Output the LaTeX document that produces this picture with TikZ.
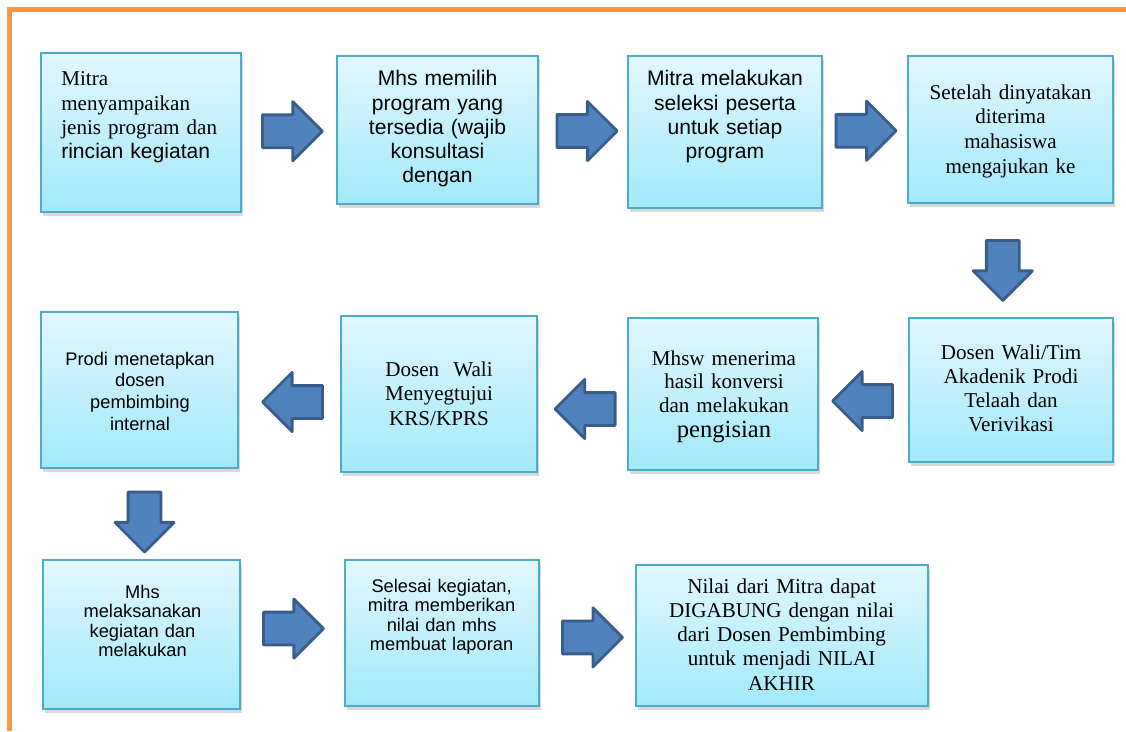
\documentclass[tikz,border=0pt]{standalone}
\usepackage{fontspec}
\setmainfont{Liberation Serif}
\setsansfont{Liberation Sans}
\usetikzlibrary{positioning, shapes.arrows, shadows}

\definecolor{frameorange}{HTML}{F79646}
\definecolor{boxline}{HTML}{4BACC6}
\definecolor{boxtop}{HTML}{E1F7FE}
\definecolor{boxbottom}{HTML}{A2E9FB}
\definecolor{arrowfill}{HTML}{4F81BD}
\definecolor{arrowline}{HTML}{385D8A}

\begin{document}
\begin{tikzpicture}[
    stepbox/.style={draw=boxline, line width=1.3pt, top color=boxtop,
                    bottom color=boxbottom, inner sep=0pt,
                    drop shadow={shadow xshift=1.2pt, shadow yshift=-2.6pt, opacity=0.3}},
    serif/.style={font=\rmfamily\fontsize{15}{17.3}\selectfont, inner sep=0pt,
                  align=center, text width=4.6cm, anchor=base},
    sans/.style={font=\sffamily\fontsize{15}{17.1}\selectfont, inner sep=0pt,
                 align=center, text width=4.6cm, anchor=base},
    smallsans/.style={font=\sffamily\fontsize{13}{13.9}\selectfont, inner sep=0pt,
                      align=center, text width=4.6cm, anchor=base},
    blockarrow/.style={single arrow, draw=arrowline, fill=arrowfill, line width=2pt,
                       line join=round, minimum height=1.5cm, minimum width=1.4cm,
                       single arrow head extend=0.33cm, inner sep=0.375cm},
    rarr/.style={blockarrow, xshift=-0.18cm},
    larr/.style={blockarrow, shape border rotate=180, xshift=0.18cm},
    darr/.style={blockarrow, shape border rotate=270, yshift=0.18cm}
  ]
    \useasboundingbox (0,0) rectangle (28.15,-18.275);

    % frame
    \draw[frameorange, line width=3.2pt] (0.2375,-18.275) -- (0.2375,-0.2375) -- (28.15,-0.2375);

    % row 1
    \node[stepbox, minimum width=5.0cm,   minimum height=3.975cm] (b1) at (3.525,-3.3125)  {};
    \node[stepbox, minimum width=5.025cm, minimum height=3.7cm]   (b2) at (10.9375,-3.25)  {};
    \node[stepbox, minimum width=4.85cm,  minimum height=3.8cm]   (b3) at (18.125,-3.3)    {};
    \node[stepbox, minimum width=5.125cm, minimum height=3.675cm] (b4) at (25.2625,-3.2375) {};

    % row 2
    \node[stepbox, minimum width=5.1cm,   minimum height=3.6cm]   (b8) at (25.275,-9.75)   {};
    \node[stepbox, minimum width=4.75cm,  minimum height=3.8cm]   (b7) at (18.075,-9.85)   {};
    \node[stepbox, minimum width=4.9cm,   minimum height=3.9cm]   (b6) at (10.975,-9.85)   {};
    \node[stepbox, minimum width=4.925cm, minimum height=3.9cm]   (b5) at (3.4875,-9.75)   {};

    % row 3
    \node[stepbox, minimum width=4.925cm, minimum height=3.725cm] (b9)  at (3.5375,-15.8625) {};
    \node[stepbox, minimum width=4.85cm,  minimum height=3.65cm]  (b10) at (11.05,-15.825)   {};
    \node[stepbox, minimum width=7.3cm,   minimum height=3.525cm] (b11) at (19.55,-15.8875)  {};

    % texts
    \node[serif, anchor=base west, align=left] (t1) at (1.525,-2.15)
      {Mitra\\menyampaikan\\jenis program dan\\{\sffamily rincian kegiatan}};
    \node[sans] (t2) at (10.9375,-2.15)
      {Mhs memilih\\program yang\\tersedia (wajib\\konsultasi\\dengan};
    \node[sans] (t3) at (18.125,-2.15)
      {Mitra melakukan\\seleksi peserta\\untuk setiap\\program};
    \node[serif, font=\rmfamily\fontsize{15}{17.7}\selectfont] (t4) at (25.2625,-2.475)
      {Setelah dinyatakan\\diterima\\mahasiswa\\mengajukan ke};
    \node[serif] (t8) at (25.275,-8.975)
      {Dosen Wali/Tim\\Akadenik Prodi\\Telaah dan\\Verivikasi};
    \node[serif, font=\rmfamily\fontsize{15}{16.8}\selectfont] (t7) at (18.1,-9.125)
      {Mhsw menerima\\hasil konversi\\dan melakukan\\[1.2pt]{\fontsize{17.5}{19}\selectfont pengisian}};
    \node[serif, font=\rmfamily\fontsize{15}{17.7}\selectfont] (t6) at (10.975,-9.4)
      {Dosen\ \ Wali\\Menyegtujui\\KRS/KPRS};
    \node[smallsans, font=\sffamily\fontsize{13}{15.5}\selectfont] (t5) at (3.5,-9.125)
      {Prodi menetapkan\\dosen\\pembimbing\\internal};
    \node[smallsans] (t9) at (3.5625,-14.95)
      {Mhs\\melaksanakan\\kegiatan dan\\melakukan};
    \node[smallsans] (t10) at (11.04,-14.8)
      {Selesai kegiatan,\\mitra memberikan\\nilai dan mhs\\membuat laporan};
    \node[serif, text width=6.8cm] (t11) at (19.54,-14.825)
      {Nilai dari Mitra dapat\\DIGABUNG dengan nilai\\dari Dosen Pembimbing\\untuk menjadi NILAI\\AKHIR};

    % block arrows between steps
    \path (b1.east)  -- (b2.west)  node[rarr, midway, xshift=0.06cm] (a1) {};
    \path (b2.east)  -- (b3.west)  node[rarr, midway, xshift=0.075cm] (a2) {};
    \path (b3.east)  -- (b4.west)  node[rarr, midway] (a3) {};
    \path (b4.south) -- (b8.north) node[darr, midway, xshift=-0.2cm, yshift=-0.225cm] (a4) {};
    \path (b8.west)  -- (b7.east)  node[larr, midway, yshift=-0.225cm] (a5) {};
    \path (b7.west)  -- (b6.east)  node[larr, midway, xshift=0.09cm, yshift=-0.375cm] (a6) {};
    \path (b6.west)  -- (b5.east)  node[larr, midway, xshift=0.1cm, yshift=-0.25cm] (a7) {};
    \path (b5.south) -- (b9.north) node[darr, midway, xshift=0.1cm, yshift=-0.175cm] (a8) {};
    \path (b9.east)  -- (b10.west) node[rarr, midway, yshift=0.13cm] (a9) {};
    \path (b10.east) -- (b11.west) node[rarr, midway, xshift=0.1cm, yshift=-0.08cm] (a10) {};
  \end{tikzpicture}
\end{document}
